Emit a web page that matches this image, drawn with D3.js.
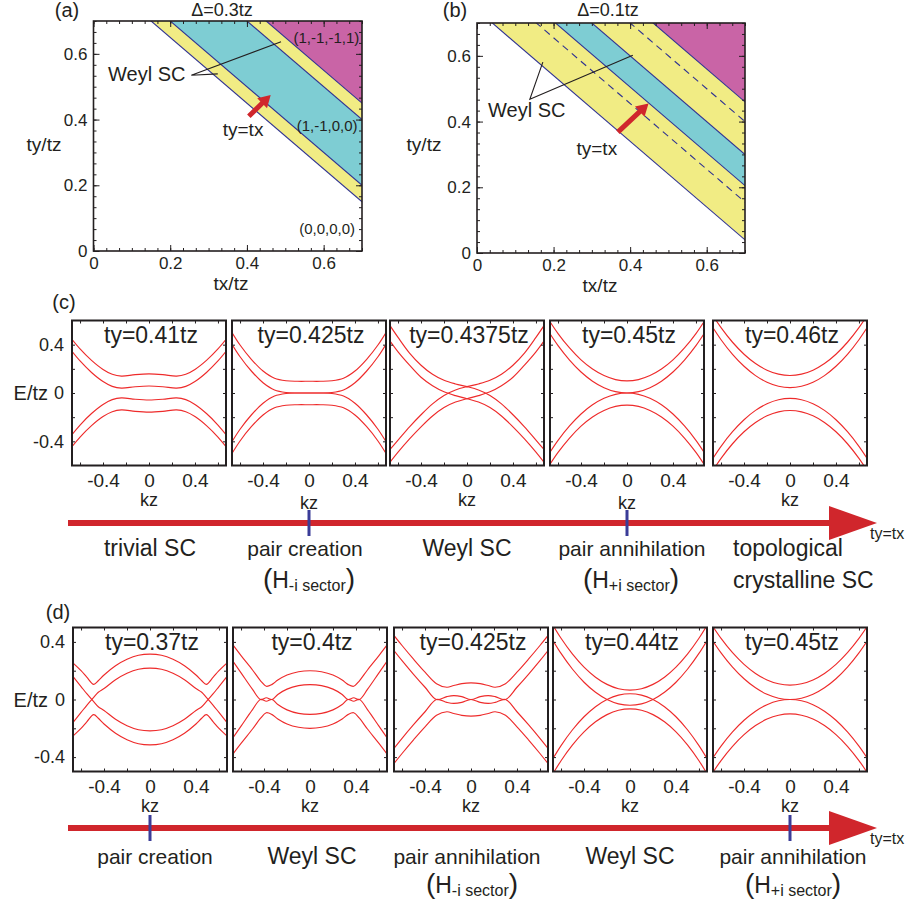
<!DOCTYPE html>
<html>
<head>
<meta charset="utf-8">
<script src="https://cdn.jsdelivr.net/npm/d3@7"></script>
<style>
  body { margin: 0; background: #fff; }
  svg { display: block; }
  text { font-family: "Liberation Sans", Arial, Helvetica, sans-serif; fill: #231f20; }
</style>
</head>
<body>
<svg id="fig" width="919" height="903"></svg>
<script>
// ---------------- data ----------------
// phase diagrams: boundaries are lines tx + ty = const
const phaseDomain = [0, 0.7];
const phaseTicks = [0, 0.2, 0.4, 0.6];
const boundsA = [0.85, 0.90, 1.10, 1.15];
const boundsB = [0.74, 0.905, 1.00, 1.16];
const dashedB = [0.855, 1.10];
const regionKinds = ["yellow", "cyan", "yellow", "magenta"];
const indexLabelsA = ["(1,-1,-1,1)", "(1,-1,0,0)", "(0,0,0,0)"];

// band structures
const kzTickLabels = [-0.4, 0, 0.4];
const eTickLabels = [-0.4, 0, 0.4];
const titlesC = ["ty=0.41tz", "ty=0.425tz", "ty=0.4375tz", "ty=0.45tz", "ty=0.46tz"];
const titlesD = ["ty=0.37tz", "ty=0.4tz", "ty=0.425tz", "ty=0.44tz", "ty=0.45tz"];

const kzC1 = [-0.7, -0.6, -0.5, -0.4, -0.32, -0.24, -0.12, 0, 0.12, 0.24, 0.32, 0.4, 0.5, 0.6, 0.7];
const bandsC1 = [
  [0.48, 0.365, 0.27, 0.195, 0.155, 0.14, 0.152, 0.158, 0.152, 0.14, 0.155, 0.195, 0.27, 0.365, 0.48],
  [0.38, 0.265, 0.17, 0.095, 0.055, 0.04, 0.052, 0.058, 0.052, 0.04, 0.055, 0.095, 0.17, 0.265, 0.38],
  [-0.38, -0.265, -0.17, -0.095, -0.055, -0.04, -0.052, -0.058, -0.052, -0.04, -0.055, -0.095, -0.17, -0.265, -0.38],
  [-0.48, -0.365, -0.27, -0.195, -0.155, -0.14, -0.152, -0.158, -0.152, -0.14, -0.155, -0.195, -0.27, -0.365, -0.48]
];
const kzC2 = [-0.7, -0.6, -0.5, -0.4, -0.3, -0.2, -0.1, 0, 0.1, 0.2, 0.3, 0.4, 0.5, 0.6, 0.7];
const bandsC2 = [
  [0.547, 0.397, 0.277, 0.182, 0.122, 0.101, 0.097, 0.097, 0.097, 0.101, 0.122, 0.182, 0.277, 0.397, 0.547],
  [0.45, 0.3, 0.18, 0.085, 0.025, 0.004, 0, 0, 0, 0.004, 0.025, 0.085, 0.18, 0.3, 0.45],
  [-0.45, -0.3, -0.18, -0.085, -0.025, -0.004, 0, 0, 0, -0.004, -0.025, -0.085, -0.18, -0.3, -0.45],
  [-0.547, -0.397, -0.277, -0.182, -0.122, -0.101, -0.097, -0.097, -0.097, -0.101, -0.122, -0.182, -0.277, -0.397, -0.547]
];
const kzC3 = [-0.7, -0.6, -0.5, -0.4, -0.3, -0.2, -0.1, 0, 0.1, 0.2, 0.3, 0.4, 0.5, 0.6, 0.7];
const bandsC3 = [
  [0.6, 0.46, 0.33, 0.23, 0.155, 0.105, 0.075, 0.053, 0.025, -0.02, -0.09, -0.18, -0.28, -0.39, -0.5],
  [0.47, 0.34, 0.23, 0.13, 0.06, 0.01, -0.022, -0.047, -0.075, -0.12, -0.19, -0.28, -0.38, -0.49, -0.61],
  [-0.5, -0.39, -0.28, -0.18, -0.09, -0.02, 0.025, 0.053, 0.075, 0.105, 0.155, 0.23, 0.33, 0.46, 0.6],
  [-0.61, -0.49, -0.38, -0.28, -0.19, -0.12, -0.075, -0.047, -0.022, 0.01, 0.06, 0.13, 0.23, 0.34, 0.47]
];
const kzC4 = [-0.7, -0.6, -0.5, -0.4, -0.3, -0.2, -0.1, 0, 0.1, 0.2, 0.3, 0.4, 0.5, 0.6, 0.7];
const bandsC4 = [
  [0.634, 0.492, 0.373, 0.274, 0.198, 0.144, 0.111, 0.1, 0.111, 0.144, 0.198, 0.274, 0.373, 0.492, 0.634],
  [0.534, 0.392, 0.273, 0.174, 0.098, 0.044, 0.011, 0, 0.011, 0.044, 0.098, 0.174, 0.273, 0.392, 0.534],
  [-0.534, -0.392, -0.273, -0.174, -0.098, -0.044, -0.011, 0, -0.011, -0.044, -0.098, -0.174, -0.273, -0.392, -0.534],
  [-0.634, -0.492, -0.373, -0.274, -0.198, -0.144, -0.111, -0.1, -0.111, -0.144, -0.198, -0.274, -0.373, -0.492, -0.634]
];
const kzC5 = [-0.7, -0.6, -0.5, -0.4, -0.3, -0.2, -0.1, 0, 0.1, 0.2, 0.3, 0.4, 0.5, 0.6, 0.7];
const bandsC5 = [
  [0.684, 0.541, 0.42, 0.321, 0.244, 0.189, 0.156, 0.145, 0.156, 0.189, 0.244, 0.321, 0.42, 0.541, 0.684],
  [0.584, 0.441, 0.32, 0.221, 0.144, 0.089, 0.056, 0.045, 0.056, 0.089, 0.144, 0.221, 0.32, 0.441, 0.584],
  [-0.584, -0.441, -0.32, -0.221, -0.144, -0.089, -0.056, -0.045, -0.056, -0.089, -0.144, -0.221, -0.32, -0.441, -0.584],
  [-0.684, -0.541, -0.42, -0.321, -0.244, -0.189, -0.156, -0.145, -0.156, -0.189, -0.244, -0.321, -0.42, -0.541, -0.684]
];

const kzD1 = [-0.7, -0.6, -0.55, -0.49, -0.45, -0.4, -0.3, -0.2, -0.1, 0, 0.1, 0.2, 0.3, 0.4, 0.45, 0.49, 0.55, 0.6, 0.7];
const bandsD1 = [
  [0.275, 0.2, 0.155, 0.105, 0.13, 0.17, 0.234, 0.279, 0.307, 0.315, 0.307, 0.279, 0.234, 0.17, 0.13, 0.105, 0.155, 0.2, 0.275],
  [-0.19, -0.09, -0.04, 0.015, 0.05, 0.076, 0.137, 0.182, 0.21, 0.218, 0.21, 0.182, 0.137, 0.076, 0.05, 0.015, -0.04, -0.09, -0.19],
  [0.19, 0.09, 0.04, -0.015, -0.05, -0.076, -0.137, -0.182, -0.21, -0.218, -0.21, -0.182, -0.137, -0.076, -0.05, -0.015, 0.04, 0.09, 0.19],
  [-0.275, -0.2, -0.155, -0.105, -0.13, -0.17, -0.234, -0.279, -0.307, -0.315, -0.307, -0.279, -0.234, -0.17, -0.13, -0.105, -0.155, -0.2, -0.275]
];
const kzD2 = [-0.7, -0.6, -0.5, -0.43, -0.38, -0.33, -0.28, -0.2, -0.1, 0, 0.1, 0.2, 0.28, 0.33, 0.38, 0.43, 0.5, 0.6, 0.7];
const bandsD2 = [
  [0.41, 0.305, 0.205, 0.13, 0.092, 0.105, 0.135, 0.17, 0.193, 0.2, 0.193, 0.17, 0.135, 0.105, 0.092, 0.13, 0.205, 0.305, 0.41],
  [0.3, 0.185, 0.07, 0, 0.012, 0, 0.035, 0.072, 0.096, 0.103, 0.096, 0.072, 0.035, 0, 0.012, 0, 0.07, 0.185, 0.3],
  [-0.3, -0.185, -0.07, 0, -0.012, 0, -0.035, -0.072, -0.096, -0.103, -0.096, -0.072, -0.035, 0, -0.012, 0, -0.07, -0.185, -0.3],
  [-0.41, -0.305, -0.205, -0.13, -0.092, -0.105, -0.135, -0.17, -0.193, -0.2, -0.193, -0.17, -0.135, -0.105, -0.092, -0.13, -0.205, -0.305, -0.41]
];
const kzD3 = [-0.7, -0.6, -0.5, -0.4, -0.3, -0.21, -0.15, -0.08, 0, 0.08, 0.15, 0.21, 0.3, 0.4, 0.5, 0.6, 0.7];
const bandsD3 = [
  [0.475, 0.375, 0.28, 0.19, 0.11, 0.085, 0.097, 0.11, 0.115, 0.11, 0.097, 0.085, 0.11, 0.19, 0.28, 0.375, 0.475],
  [0.37, 0.27, 0.175, 0.085, 0, 0.02, 0.027, 0.02, 0, 0.02, 0.027, 0.02, 0, 0.085, 0.175, 0.27, 0.37],
  [-0.37, -0.27, -0.175, -0.085, 0, -0.02, -0.027, -0.02, 0, -0.02, -0.027, -0.02, 0, -0.085, -0.175, -0.27, -0.37],
  [-0.475, -0.375, -0.28, -0.19, -0.11, -0.085, -0.097, -0.11, -0.115, -0.11, -0.097, -0.085, -0.11, -0.19, -0.28, -0.375, -0.475]
];
const kzD4 = [-0.7, -0.6, -0.5, -0.4, -0.3, -0.2, -0.1, 0, 0.1, 0.2, 0.3, 0.4, 0.5, 0.6, 0.7];
const bandsD4 = [
  [0.555, 0.425, 0.315, 0.225, 0.155, 0.105, 0.075, 0.065, 0.075, 0.105, 0.155, 0.225, 0.315, 0.425, 0.555],
  [0.45, 0.32, 0.21, 0.12, 0.05, 0, -0.03, -0.04, -0.03, 0, 0.05, 0.12, 0.21, 0.32, 0.45],
  [-0.45, -0.32, -0.21, -0.12, -0.05, 0, 0.03, 0.04, 0.03, 0, -0.05, -0.12, -0.21, -0.32, -0.45],
  [-0.555, -0.425, -0.315, -0.225, -0.155, -0.105, -0.075, -0.065, -0.075, -0.105, -0.155, -0.225, -0.315, -0.425, -0.555]
];
const kzD5 = [-0.7, -0.6, -0.5, -0.4, -0.3, -0.2, -0.1, 0, 0.1, 0.2, 0.3, 0.4, 0.5, 0.6, 0.7];
const bandsD5 = [
  [0.541, 0.424, 0.325, 0.244, 0.181, 0.136, 0.109, 0.1, 0.109, 0.136, 0.181, 0.244, 0.325, 0.424, 0.541],
  [0.441, 0.324, 0.225, 0.144, 0.081, 0.036, 0.009, 0, 0.009, 0.036, 0.081, 0.144, 0.225, 0.324, 0.441],
  [-0.441, -0.324, -0.225, -0.144, -0.081, -0.036, -0.009, 0, -0.009, -0.036, -0.081, -0.144, -0.225, -0.324, -0.441],
  [-0.541, -0.424, -0.325, -0.244, -0.181, -0.136, -0.109, -0.1, -0.109, -0.136, -0.181, -0.244, -0.325, -0.424, -0.541]
];

const panelsC = [[kzC1, bandsC1], [kzC2, bandsC2], [kzC3, bandsC3], [kzC4, bandsC4], [kzC5, bandsC5]];
const panelsD = [[kzD1, bandsD1], [kzD2, bandsD2], [kzD3, bandsD3], [kzD4, bandsD4], [kzD5, bandsD5]];

// ---------------- drawing ----------------
const INK = "#231f20";
const COLORS = { yellow: "#f1ec84", cyan: "#7ecdd3", magenta: "#c964a6", edge: "#2e3192",
                 band: "#ee2b2b", arrow: "#d0262c", mark: "#3a3c98" };
const svg = d3.select("#fig");
const fmt = d => d === 0 ? "0" : d3.format(".1f")(d).replace("\u2212", "-");

function label(g, x, y, s, size, anchor = "middle") {
  return g.append("text").attr("x", x).attr("y", y).attr("font-size", size)
    .attr("text-anchor", anchor).text(s);
}

function styleAxis(sel, size) {
  sel.attr("font-family", null).attr("font-size", null);
  sel.select(".domain").remove();
  sel.selectAll("line").attr("stroke", INK).attr("stroke-width", 1);
  sel.selectAll("text").attr("font-size", size).attr("fill", INK);
  return sel;
}

// thick block arrow from p0 to p1 (pixel coords)
function blockArrow(g, p0, p1, shaft, headLen, headW, color) {
  const dx = p1[0] - p0[0], dy = p1[1] - p0[1];
  const L = Math.hypot(dx, dy), ux = dx / L, uy = dy / L, nx = -uy, ny = ux;
  const b = [p1[0] - ux * headLen, p1[1] - uy * headLen];
  const pts = [
    [p0[0] + nx * shaft / 2, p0[1] + ny * shaft / 2],
    [b[0] + nx * shaft / 2, b[1] + ny * shaft / 2],
    [b[0] + nx * headW / 2, b[1] + ny * headW / 2],
    p1,
    [b[0] - nx * headW / 2, b[1] - ny * headW / 2],
    [b[0] - nx * shaft / 2, b[1] - ny * shaft / 2],
    [p0[0] - nx * shaft / 2, p0[1] - ny * shaft / 2]
  ];
  g.append("path").attr("d", d3.line()(pts) + "Z").attr("fill", color);
}

function phasePanel(id, x0, x1, yTop, yBot, bounds, dashed) {
  const x = d3.scaleLinear(phaseDomain, [x0, x1]);
  const y = d3.scaleLinear(phaseDomain, [yBot, yTop]);
  const g = svg.append("g");
  g.append("clipPath").attr("id", id).append("rect")
    .attr("x", x0).attr("y", yTop).attr("width", x1 - x0).attr("height", yBot - yTop);
  const inner = g.append("g").attr("clip-path", `url(#${id})`);
  const poly = d3.line().x(d => x(d[0])).y(d => y(d[1]));
  const edges = [...bounds, 3];
  regionKinds.forEach((kind, i) => {
    const lo = edges[i], hi = edges[i + 1];
    const pts = [[lo + 1, -1], [hi + 1, -1], [-1, hi + 1], [-1, lo + 1]];
    inner.append("path").attr("d", poly(pts) + "Z").attr("fill", COLORS[kind]);
  });
  bounds.forEach(c => {
    inner.append("path").attr("d", poly([[c + 1, -1], [-1, c + 1]]))
      .attr("stroke", COLORS.edge).attr("stroke-width", 1.1).attr("fill", "none");
  });
  dashed.forEach(c => {
    inner.append("path").attr("d", poly([[c + 1, -1], [-1, c + 1]]))
      .attr("stroke", COLORS.edge).attr("stroke-width", 1.1).attr("fill", "none")
      .attr("stroke-dasharray", "7,5");
  });
  // ticks on all four sides, pointing inward
  const minor = d3.range(0, 0.7001, 0.2 / 6);
  const sides = [
    [d3.axisBottom(x), `translate(0,${yBot})`, true],
    [d3.axisTop(x), `translate(0,${yTop})`, false],
    [d3.axisLeft(y), `translate(${x0},0)`, true],
    [d3.axisRight(y), `translate(${x1},0)`, false]
  ];
  sides.forEach(([ax, tr]) => {
    styleAxis(g.append("g").attr("transform", tr)
      .call(ax.tickValues(minor).tickSize(-3).tickFormat("")), 0);
  });
  sides.forEach(([ax, tr, lab]) => {
    styleAxis(g.append("g").attr("transform", tr)
      .call(ax.tickValues(phaseTicks).tickSize(-6).tickPadding(6)
        .tickFormat(lab ? fmt : "")), 17);
  });
  g.append("rect").attr("x", x0).attr("y", yTop).attr("width", x1 - x0).attr("height", yBot - yTop)
    .attr("fill", "none").attr("stroke", INK).attr("stroke-width", 1.6);
  return { g, x, y };
}

// ---- panel (a) ----
const A = phasePanel("clipA", 93.5, 362, 21, 251, boundsA, []);
label(svg, 67, 17, "(a)", 20);
label(svg, 222, 16, "\u0394=0.3tz", 18);
label(svg, 44, 151, "ty/tz", 19);
label(svg, 231, 290, "tx/tz", 19);
label(A.g, A.x(0.038), A.y(0.54) + 7, "Weyl SC", 20, "start");
A.g.append("path").attr("d", d3.line()([[A.x(0.324), A.y(0.539)], [A.x(0.255), A.y(0.535)], [A.x(0.489), A.y(0.637)]]))
  .attr("fill", "none").attr("stroke", INK).attr("stroke-width", 1.1);
blockArrow(A.g, [A.x(0.405), A.y(0.41)], [A.x(0.462), A.y(0.475)], 5, 12, 14, COLORS.arrow);
label(A.g, A.x(0.39), A.y(0.37) + 7, "ty=tx", 19);
label(A.g, A.x(0.607), A.y(0.647) + 5, indexLabelsA[0], 15);
label(A.g, A.x(0.609), A.y(0.38) + 5, indexLabelsA[1], 15);
label(A.g, A.x(0.609), A.y(0.066) + 5, indexLabelsA[2], 15);

// ---- panel (b) ----
const B = phasePanel("clipB", 477, 745, 23, 253, boundsB, dashedB);
label(svg, 455, 17, "(b)", 20);
label(svg, 608, 16, "\u0394=0.1tz", 18);
label(svg, 424, 151, "ty/tz", 19);
label(svg, 600, 292, "tx/tz", 19);
label(B.g, B.x(0.029), B.y(0.435) + 7, "Weyl SC", 20, "start");
B.g.append("path").attr("d", d3.line()([[B.x(0.172), B.y(0.581)], [B.x(0.138), B.y(0.468)], [B.x(0.407), B.y(0.602)]]))
  .attr("fill", "none").attr("stroke", INK).attr("stroke-width", 1.1);
blockArrow(B.g, [B.x(0.368), B.y(0.368)], [B.x(0.448), B.y(0.455)], 5, 12, 14, COLORS.arrow);
label(B.g, B.x(0.313), B.y(0.319) + 7, "ty=tx", 19);

// ---- band panels ----
const BOX_W = 154;
function bandPanel(id, left, top, h, eMax, title, kz, bands, showE, tickPad, kzLabelY) {
  const x = d3.scaleLinear([-0.67, 0.67], [left, left + BOX_W]);
  const y = d3.scaleLinear([-eMax, eMax], [top + h, top]);
  const g = svg.append("g");
  g.append("clipPath").attr("id", id).append("rect")
    .attr("x", left).attr("y", top).attr("width", BOX_W).attr("height", h);
  const line = d3.line().x(d => x(d[0])).y(d => y(d[1])).curve(d3.curveCatmullRom.alpha(0.5));
  const inner = g.append("g").attr("clip-path", `url(#${id})`);
  bands.forEach(band => {
    inner.append("path").attr("d", line(kz.map((k, i) => [k, band[i]])))
      .attr("fill", "none").attr("stroke", COLORS.band).attr("stroke-width", 1.15);
  });
  const kzT = [-0.6, -0.4, -0.2, 0, 0.2, 0.4, 0.6];
  const eT = [-0.4, -0.2, 0, 0.2, 0.4];
  styleAxis(g.append("g").attr("transform", `translate(0,${top + h})`)
    .call(d3.axisBottom(x).tickValues(kzT).tickSize(-3).tickPadding(tickPad)
      .tickFormat(d => kzTickLabels.includes(d) ? fmt(d) : "")), 19);
  styleAxis(g.append("g").attr("transform", `translate(0,${top})`)
    .call(d3.axisTop(x).tickValues(kzT).tickSize(-3).tickFormat("")), 0);
  styleAxis(g.append("g").attr("transform", `translate(${left},0)`)
    .call(d3.axisLeft(y).tickValues(eT).tickSize(-3).tickPadding(8)
      .tickFormat(d => showE && eTickLabels.includes(d) ? fmt(d) : "")), 18);
  styleAxis(g.append("g").attr("transform", `translate(${left + BOX_W},0)`)
    .call(d3.axisRight(y).tickValues(eT).tickSize(-3).tickFormat("")), 0);
  g.append("rect").attr("x", left).attr("y", top).attr("width", BOX_W).attr("height", h)
    .attr("fill", "none").attr("stroke", INK).attr("stroke-width", 2);
  label(g, left + BOX_W / 2 + 2, top + 22.5, title, 23);
  label(g, left + BOX_W / 2, kzLabelY, "kz", 18);
  if (showE) label(g, 48, y(0) + 7, "E/tz", 20, "end");
}

const leftsC = [72, 232, 390, 550, 713];
const leftsD = [73, 233, 394, 553, 713];
panelsC.forEach(([kz, bands], i) =>
  bandPanel("clipC" + i, leftsC[i], 320.5, 145, 0.6, titlesC[i], kz, bands, i === 0, 8, (i % 2 ? 509 : 506)));
panelsD.forEach(([kz, bands], i) =>
  bandPanel("clipD" + i, leftsD[i], 627.5, 144, 0.5, titlesD[i], kz, bands, i === 0, 8, 812));

label(svg, 64, 309, "(c)", 20);
label(svg, 58, 619, "(d)", 20);

// ---- parameter axes (ty = tx) ----
function paramAxis(yc, marks) {
  const g = svg.append("g");
  g.append("rect").attr("x", 68).attr("y", yc - 3).attr("width", 770).attr("height", 6).attr("fill", COLORS.arrow);
  g.append("path").attr("d", d3.line()([[829, yc - 17], [877, yc], [829, yc + 17]]) + "Z").attr("fill", COLORS.arrow);
  marks.forEach(mx => g.append("rect").attr("x", mx - 1.5).attr("y", yc - 13).attr("width", 3)
    .attr("height", 26).attr("fill", COLORS.mark));
  g.append("text").attr("x", 870).attr("y", yc + 16).attr("font-size", 16).text("ty=tx");
  return g;
}
function sector(g, x, y, sign) {
  const t = g.append("text").attr("x", x).attr("y", y).attr("text-anchor", "middle");
  t.append("tspan").attr("font-size", 28).attr("font-weight", 300).text("(");
  t.append("tspan").attr("font-size", 23).text("H");
  t.append("tspan").attr("font-size", 16).attr("dy", 3).text(sign + "i sector");
  t.append("tspan").attr("font-size", 28).attr("dy", -3).text(")");
}

const gc = paramAxis(523, [leftsC[1] + BOX_W / 2, leftsC[3] + BOX_W / 2]);
label(gc, 150, 556, "trivial SC", 23);
label(gc, 305, 556, "pair creation", 21);
sector(gc, 309, 588, "-");
label(gc, 467, 556, "Weyl SC", 23);
label(gc, 632, 556, "pair annihilation", 21);
sector(gc, 631, 588, "+");
label(gc, 733, 556, "topological", 23, "start");
label(gc, 733, 588, "crystalline SC", 23, "start");

const gd = paramAxis(828, [leftsD[0] + BOX_W / 2, leftsD[4] + BOX_W / 2]);
label(gd, 155, 864, "pair creation", 21);
label(gd, 312, 864, "Weyl SC", 23);
label(gd, 467, 864, "pair annihilation", 21);
sector(gd, 472, 893, "-");
label(gd, 630, 864, "Weyl SC", 23);
label(gd, 793, 864, "pair annihilation", 21);
sector(gd, 793, 893, "+");
</script>
</body>
</html>
